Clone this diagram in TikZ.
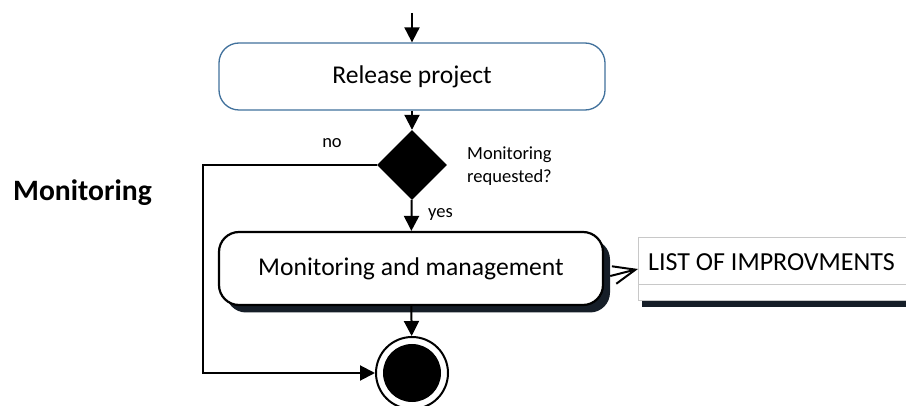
\documentclass[tikz,border=0pt]{standalone}
\usepackage{fontspec}
\setmainfont{Carlito}
\usetikzlibrary{arrows.meta,shapes.geometric}
\definecolor{boxblue}{HTML}{41719C}
\definecolor{shadowc}{HTML}{161E28}
\definecolor{listgray}{HTML}{C8C8C8}
\begin{document}
\begin{tikzpicture}[x=1pt,y=-1pt,
  flow/.style={line width=2pt,-{Triangle[width=15pt,length=15pt]}},
  release/.style={draw=boxblue,line width=1.3pt,rounded corners=20pt,minimum width=386pt,minimum height=67pt,fill=white,inner sep=0pt,font=\fontsize{25.6}{30}\selectfont},
  activity/.style={draw=black,line width=2.2pt,rounded corners=20pt,minimum width=384pt,minimum height=73pt,fill=white,inner sep=0pt,font=\fontsize{25.6}{30}\selectfont},
  actshadow/.style={fill=shadowc,rounded corners=20pt,minimum width=384pt,minimum height=73pt,inner sep=0pt},
  small/.style={font=\fontsize{18.5}{23}\selectfont,inner sep=0pt}]
\useasboundingbox (0,0) rectangle (906,406);
\clip (0,0) rectangle (906,406);
% nodes
\coordinate (start) at (412,13);
\node[release] (rel) at (412,76.5) {Release project};
\node[diamond,fill=black,minimum width=70pt,minimum height=70pt,inner sep=0pt] (dec) at (412,165) {};
\node[actshadow] (monshadow) at (418,276) {};
\node[activity] (mon) at (411,268.5) {Monitoring and management};
\node[circle,draw=black,line width=2pt,fill=white,minimum size=72pt,inner sep=0pt] (end) at (412,373) {};
\node[circle,fill=black,minimum size=58pt,inner sep=0pt] (endin) at (412,373) {};
% list of improvements
\fill[shadowc] (642,301) rectangle (920,307);
\node[draw=listgray,line width=1pt,fill=white,anchor=north west,minimum width=290pt,minimum height=63pt,inner sep=0pt] (list) at (638,237) {};
\draw[listgray,line width=1pt] (638,285) -- (920,285);
\node[anchor=west,font=\fontsize{26}{30}\selectfont,inner sep=0pt] (listtxt) at (648,262) {LIST OF IMPROVMENTS};
% labels
\node[anchor=west,font=\fontsize{29.6}{34}\bfseries,inner sep=0pt] (lane) at (13,193) {Monitoring};
\node[small] (no) at (332,143) {no};
\node[small,anchor=west,align=left] (q) at (467,166) {Monitoring\\requested?};
\node[small,anchor=west] (yes) at (428,215) {yes};
% connectors
\coordinate (noturn) at (203,165);
\draw[flow] (start) -- (rel);
\draw[flow] (rel) -- (dec);
\draw[flow] (dec) -- (mon);
\draw[flow] (mon) -- (end);
\draw[flow] (dec.west) -- (noturn) |- (end.west);
\draw[line width=2pt,-{Straight Barb[length=22pt,width=18pt,line width=2pt]}] (monshadow.east) -- (list.west);
\end{tikzpicture}
\end{document}
